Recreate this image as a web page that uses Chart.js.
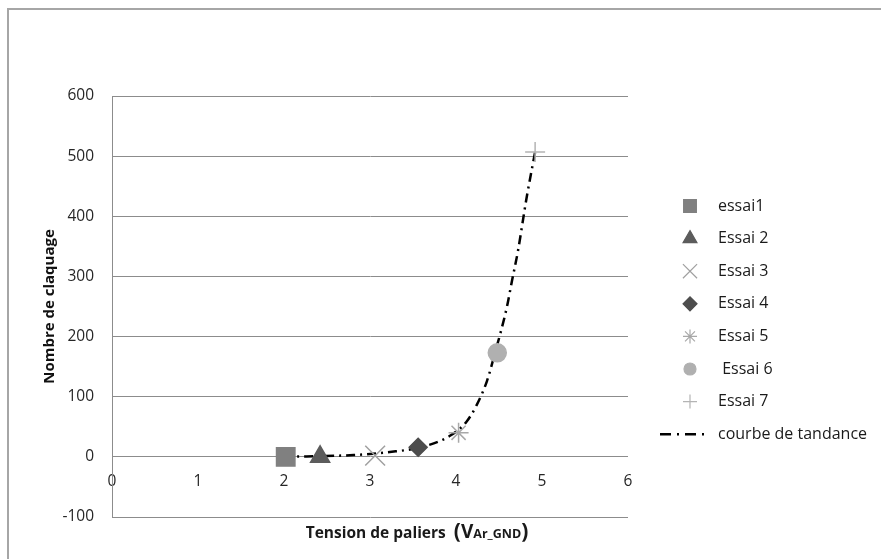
<!DOCTYPE html>
<html lang="fr">
<head>
    <meta charset="UTF-8">
    <title>Nombre de claquage</title>
    <script src="https://cdn.jsdelivr.net/npm/chart.js"></script>
    <style>
        body {
            margin: 0;
            background: #fff;
        }
        .frame {
            position: relative;
            width: 881px;
            height: 559px;
        }
        .frame::before {
            content: '';
            position: absolute;
            left: 7px;
            top: 8px;
            right: 0;
            bottom: 0;
            border-top: 2px solid #a6a6a6;
            border-left: 2px solid #a6a6a6;
        }
        canvas {
            position: absolute;
            left: 0;
            top: 0;
        }
    </style>
</head>
<body>
    <div class="frame">
        <canvas id="claquage" width="881" height="559"></canvas>
    </div>

    <script>
        // valeurs
        const trialLabels = ['essai1', 'Essai 2', 'Essai 3', 'Essai 4', 'Essai 5', ' Essai 6', 'Essai 7'];
        const trialVoltage = [2.02, 2.42, 3.06, 3.56, 4.03, 4.48, 4.92];
        const trialCount = [0, 0, 2, 16, 40, 173, 507];

        const trendLabel = 'courbe de tandance';
        const trendVoltage = [1.99, 2.81, 3.23, 3.62, 3.93, 4.12, 4.24, 4.36, 4.45, 4.59, 4.65, 4.72, 4.82, 4.92];
        const trendCount = [0, 3, 8, 17, 35, 58, 86, 126, 171, 248, 292, 342, 430, 507];

        const xTitle = ['Tension de paliers  ', '(', 'V', 'Ar_GND', ')'];
        const yTitle = 'Nombre de claquage';

        const markers = [
            { shape: 'rect',      color: '#808080', r: 13, lr: 9 },
            { shape: 'triangle',  color: '#5c5c5c', r: 11, lr: 8 },
            { shape: 'crossRot',  color: '#a0a0a0', r: 14, lr: 10 },
            { shape: 'rectRot',   color: '#4d4d4d', r: 9,  lr: 7 },
            { shape: 'star',      color: '#a8a8a8', r: 10, lr: 7 },
            { shape: 'circle',    color: '#b0b0b0', r: 9,  lr: 6 },
            { shape: 'cross',     color: '#b4b4b4', r: 10, lr: 7 }
        ];

        const font = '"Open Sans", Lato, sans-serif';

        let datasets = trialLabels.map((label, i) => ({
            label: label,
            data: [{ x: trialVoltage[i], y: trialCount[i] }],
            pointStyle: markers[i].shape,
            pointRadius: markers[i].r,
            pointHoverRadius: markers[i].r,
            backgroundColor: markers[i].color,
            borderColor: markers[i].color,
            pointBorderWidth: 1.5,
            legendRadius: markers[i].lr
        }));

        datasets.push({
            label: trendLabel,
            data: trendVoltage.map((v, i) => ({ x: v, y: trendCount[i] })),
            showLine: true,
            borderColor: '#000',
            borderWidth: 2.5,
            borderDash: [9, 5, 2, 5],
            cubicInterpolationMode: 'monotone',
            pointRadius: 0,
            pointHoverRadius: 0
        });

        const sideLegend = {
            id: 'sideLegend',
            afterDraw(chart) {
                const ctx = chart.ctx;
                const symX = chart.chartArea.right + 62;
                const textX = chart.chartArea.right + 90;
                ctx.save();
                chart.data.datasets.forEach((ds, i) => {
                    const y = 206 + i * 32.6;
                    if (ds.showLine) {
                        ctx.strokeStyle = ds.borderColor;
                        ctx.lineWidth = 2.5;
                        ctx.setLineDash([11, 6, 2, 6]);
                        ctx.beginPath();
                        ctx.moveTo(symX - 30, y);
                        ctx.lineTo(symX + 16, y);
                        ctx.stroke();
                        ctx.setLineDash([]);
                    } else {
                        ctx.fillStyle = ds.backgroundColor;
                        ctx.strokeStyle = ds.borderColor;
                        ctx.lineWidth = 1.2;
                        Chart.helpers.drawPoint(ctx, {
                            pointStyle: ds.pointStyle,
                            radius: ds.legendRadius,
                            rotation: 0,
                            borderWidth: 1.2
                        }, symX, y);
                    }
                    ctx.fillStyle = '#1a1a1a';
                    ctx.font = '16px ' + font;
                    ctx.textAlign = 'left';
                    ctx.textBaseline = 'middle';
                    ctx.fillText(ds.label, textX, y);
                });
                ctx.restore();
            }
        };

        const xAxisTitle = {
            id: 'xAxisTitle',
            afterDraw(chart) {
                const ctx = chart.ctx;
                const sizes = [15.5, 21, 19, 12.5, 21];
                const baseY = chart.chartArea.bottom + 21;
                ctx.save();
                ctx.fillStyle = '#1a1a1a';
                ctx.textBaseline = 'alphabetic';
                ctx.textAlign = 'left';
                let widths = xTitle.map((t, i) => {
                    ctx.font = 'bold ' + sizes[i] + 'px ' + font;
                    return ctx.measureText(t).width;
                });
                let total = widths.reduce((a, b) => a + b, 0);
                let x = (chart.chartArea.left + chart.chartArea.right) / 2 + 47 - total / 2;
                xTitle.forEach((t, i) => {
                    ctx.font = 'bold ' + sizes[i] + 'px ' + font;
                    ctx.fillText(t, x, baseY);
                    x += widths[i];
                });
                ctx.restore();
            }
        };

        new Chart(document.getElementById('claquage'), {
            type: 'scatter',
            data: { datasets: datasets },
            options: {
                responsive: false,
                animation: false,
                layout: {
                    padding: { left: 0, right: 253, top: 96, bottom: 42 }
                },
                plugins: {
                    legend: { display: false },
                    tooltip: { enabled: false }
                },
                scales: {
                    x: {
                        type: 'linear',
                        position: { y: 0 },
                        min: 0,
                        max: 6,
                        ticks: {
                            stepSize: 1,
                            padding: 15,
                            color: '#262626',
                            font: { family: font, size: 15.5 }
                        },
                        grid: { display: false, drawTicks: false },
                        border: { display: false },
                        afterFit(scale) { scale.height = 0; }
                    },
                    y: {
                        min: -100,
                        max: 600,
                        ticks: {
                            stepSize: 100,
                            padding: 18,
                            color: '#262626',
                            font: { family: font, size: 15.5 }
                        },
                        grid: { color: '#8c8c8c', lineWidth: 1, drawTicks: false },
                        border: { color: '#8c8c8c', width: 1 },
                        title: {
                            display: true,
                            text: yTitle,
                            color: '#111',
                            font: { family: font, size: 15, weight: 'bold' },
                            padding: { top: 41, bottom: 0 }
                        },
                        afterFit(scale) { scale.width = 112; }
                    }
                }
            },
            plugins: [sideLegend, xAxisTitle]
        });
    </script>
</body>
</html>
